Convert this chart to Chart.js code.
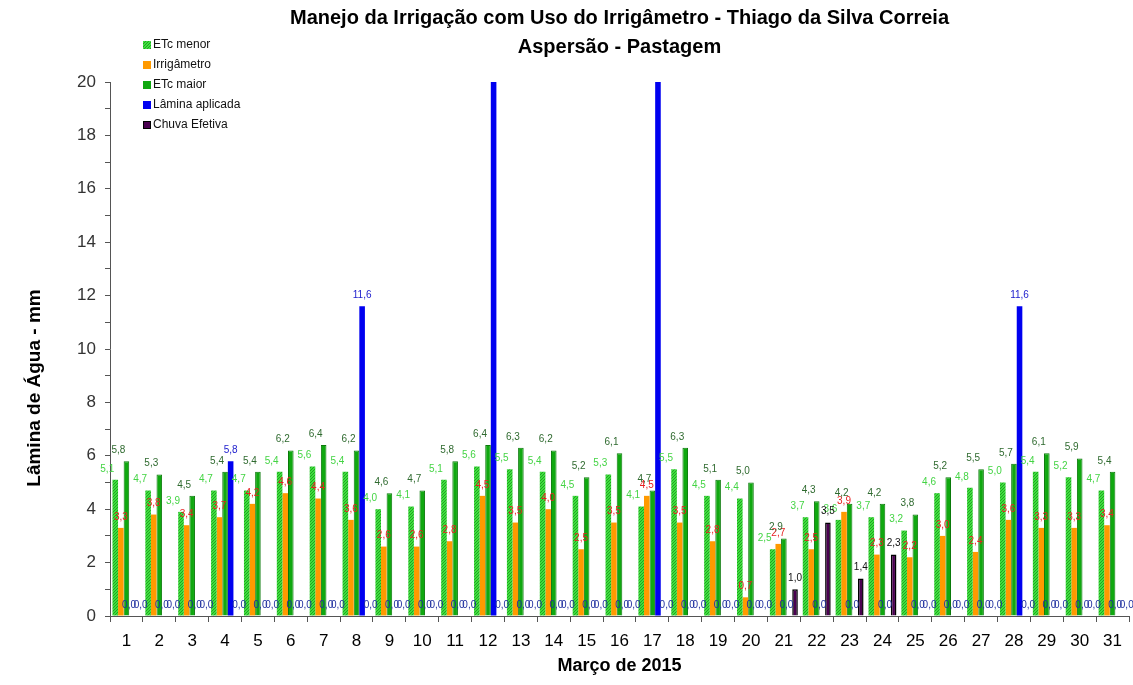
<!DOCTYPE html>
<html lang="pt">
<head>
<meta charset="utf-8">
<title>Manejo da Irrigação - Irrigâmetro</title>
<script src="https://cdn.jsdelivr.net/npm/chart.js@4.4.1/dist/chart.umd.min.js"></script>
<style>
    html, body { margin: 0; padding: 0; background: #fff; }
    #wrap { position: relative; width: 1133px; height: 685px; }
</style>
</head>
<body>
<div id="wrap"><canvas id="grafico"></canvas></div>
<script>
// Dados (março de 2015)
const dias = ['1','2','3','4','5','6','7','8','9','10','11','12','13','14','15','16',
              '17','18','19','20','21','22','23','24','25','26','27','28','29','30','31'];
const etcMenor = [5.1, 4.7, 3.9, 4.7, 4.7, 5.4, 5.6, 5.4, 4.0, 4.1, 5.1, 5.6, 5.5, 5.4, 4.5, 5.3,
                  4.1, 5.5, 4.5, 4.4, 2.5, 3.7, 3.6, 3.7, 3.2, 4.6, 4.8, 5.0, 5.4, 5.2, 4.7];
const irrigametro = [3.3, 3.8, 3.4, 3.7, 4.2, 4.6, 4.4, 3.6, 2.6, 2.6, 2.8, 4.5, 3.5, 4.0, 2.5, 3.5,
                     4.5, 3.5, 2.8, 0.7, 2.7, 2.5, 3.9, 2.3, 2.2, 3.0, 2.4, 3.6, 3.3, 3.3, 3.4];
const etcMaior = [5.8, 5.3, 4.5, 5.4, 5.4, 6.2, 6.4, 6.2, 4.6, 4.7, 5.8, 6.4, 6.3, 6.2, 5.2, 6.1,
                  4.7, 6.3, 5.1, 5.0, 2.9, 4.3, 4.2, 4.2, 3.8, 5.2, 5.5, 5.7, 6.1, 5.9, 5.4];
const laminaAplicada = [0, 0, 0, 5.8, 0, 0, 0, 11.6, 0, 0, 0, 24.0, 0, 0, 0, 0,
                        24.0, 0, 0, 0, 0, 0, 0, 0, 0, 0, 0, 11.6, 0, 0, 0];
const chuvaEfetiva = [0, 0, 0, 0, 0, 0, 0, 0, 0, 0, 0, 0, 0, 0, 0, 0,
                      0, 0, 0, 0, 1.0, 3.5, 1.4, 2.3, 0, 0, 0, 0, 0, 0, 0];
const yMin = 0, yMax = 20, yPasso = 1;

// Textura pontilhada da barra ETc menor
function texturaVerde() {
    const c = document.createElement('canvas');
    c.width = 3; c.height = 3;
    const g = c.getContext('2d');
    g.fillStyle = '#3ee03e';
    g.fillRect(0, 0, 3, 3);
    g.fillStyle = '#22a022';
    g.fillRect(0, 0, 1, 1);
    g.fillRect(2, 1, 1, 1);
    g.fillRect(1, 2, 1, 1);
    return g.createPattern(c, 'repeat');
}

const fmt = v => v.toFixed(1).replace('.', ',');

// Rótulos de valores sobre as barras
const rotulos = {
    id: 'rotulos',
    afterDatasetsDraw(chart) {
        const ctx = chart.ctx;
        const y = chart.scales.y;
        ctx.save();
        ctx.font = '10px "Liberation Sans"';
        ctx.textAlign = 'center';
        ctx.textBaseline = 'bottom';
        chart.data.datasets.forEach((ds, i) => {
            chart.getDatasetMeta(i).data.forEach((bar, j) => {
                const v = ds.data[j];
                if (v > y.max) return;
                if (v === 0) {
                    ctx.fillStyle = '#1f2f9f';
                    ctx.fillText(fmt(v), bar.x + ds.dxZero, y.getPixelForValue(0) - 6);
                } else {
                    ctx.fillStyle = ds.corRotulo;
                    ctx.fillText(fmt(v), bar.x + ds.dxRotulo, bar.y - 6);
                }
            });
        });
        ctx.restore();
    }
};

// Título, legenda e título do eixo Y
const extras = {
    id: 'extras',
    afterDraw(chart) {
        const ctx = chart.ctx;
        const area = chart.chartArea;
        ctx.save();
        ctx.fillStyle = '#000';
        ctx.textAlign = 'center';
        ctx.textBaseline = 'middle';
        ctx.font = 'bold 20px "Liberation Sans"';
        const cx = (area.left + area.right) / 2;
        ctx.fillText('Manejo da Irrigação com Uso do Irrigâmetro - Thiago da Silva Correia', cx, 18);
        ctx.fillText('Aspersão - Pastagem', cx, 47);

        ctx.save();
        ctx.translate(35, 388);
        ctx.rotate(-Math.PI / 2);
        ctx.font = 'bold 19px "Liberation Sans"';
        ctx.fillText('Lâmina de Água - mm', 0, 0);
        ctx.restore();

        ctx.textAlign = 'left';
        ctx.font = '12px "Liberation Sans"';
        chart.data.datasets.forEach((ds, i) => {
            const yy = 45 + i * 20;
            ctx.fillStyle = ds.backgroundColor;
            ctx.fillRect(143, yy - 4, 8, 8);
            if (ds.label === 'Chuva Efetiva') {
                ctx.strokeStyle = '#000';
                ctx.lineWidth = 1;
                ctx.strokeRect(143.5, yy - 3.5, 7, 7);
            }
            ctx.fillStyle = '#111';
            ctx.fillText(ds.label, 153, yy);
        });
        ctx.restore();
    }
};

const ctx = document.getElementById('grafico').getContext('2d');
new Chart(ctx, {
    type: 'bar',
    data: {
        labels: dias,
        datasets: [
            {
                label: 'ETc menor',
                data: etcMenor,
                backgroundColor: texturaVerde(),
                corRotulo: '#44d444', dxRotulo: -8, dxZero: 0
            },
            {
                label: 'Irrigâmetro',
                data: irrigametro,
                backgroundColor: '#ff9a00',
                corRotulo: '#e82020', dxRotulo: 0, dxZero: 0
            },
            {
                label: 'ETc maior',
                data: etcMaior,
                backgroundColor: '#10a810',
                borderColor: '#0a7a0a',
                borderWidth: 1,
                corRotulo: '#2f6a2f', dxRotulo: -8, dxZero: 0
            },
            {
                label: 'Lâmina aplicada',
                data: laminaAplicada,
                backgroundColor: '#0000f0',
                corRotulo: '#1a1acc', dxRotulo: 0, dxZero: -3
            },
            {
                label: 'Chuva Efetiva',
                data: chuvaEfetiva,
                backgroundColor: '#4a0050',
                borderColor: '#000',
                borderWidth: 1.5,
                corRotulo: '#111', dxRotulo: 0, dxZero: 3
            }
        ]
    },
    options: {
        responsive: true,
        maintainAspectRatio: false,
        animation: false,
        categoryPercentage: 0.85,
        barPercentage: 1.0,
        layout: { padding: { top: 82, right: 4, left: 0, bottom: 0 } },
        plugins: {
            legend: { display: false },
            title: { display: false },
            tooltip: { enabled: false }
        },
        scales: {
            x: {
                afterFit(scale) { scale.height = 69; },
                grid: {
                    offset: true,
                    drawOnChartArea: false,
                    tickLength: 6,
                    color: '#555'
                },
                border: { color: '#555' },
                ticks: {
                    padding: 9,
                    color: '#000',
                    font: { family: 'Liberation Sans', size: 17 }
                },
                title: {
                    display: true,
                    text: 'Março de 2015',
                    color: '#000',
                    font: { family: 'Liberation Sans', size: 18, weight: 'bold' },
                    padding: { top: 0, bottom: 8 }
                }
            },
            y: {
                min: yMin,
                max: yMax,
                afterFit(scale) { scale.width = 110; },
                grid: {
                    drawOnChartArea: false,
                    tickLength: 5,
                    color: '#555'
                },
                border: { color: '#555' },
                ticks: {
                    stepSize: yPasso,
                    autoSkip: false,
                    padding: 9,
                    color: '#333',
                    font: { family: 'Liberation Sans', size: 17 },
                    callback: v => (v % 2 === 0 ? v : '')
                }
            }
        }
    },
    plugins: [rotulos, extras]
});
</script>
</body>
</html>
